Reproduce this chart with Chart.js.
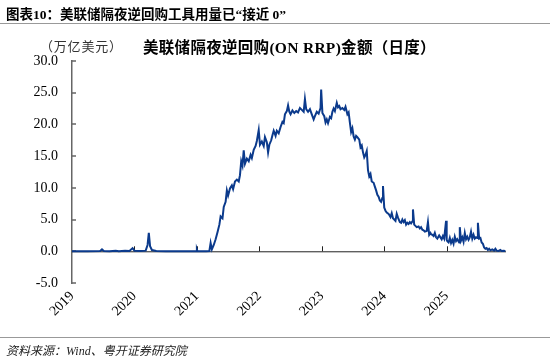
<!DOCTYPE html>
<html>
<head>
<meta charset="utf-8">
<script src="https://cdn.jsdelivr.net/npm/chart.js@4.4.1/dist/chart.umd.min.js"></script>
<style>
  body { margin: 0; background: #fff; }
  #wrap { position: relative; width: 550px; height: 359px; overflow: hidden; }
  #c { position: absolute; left: 0; top: 0; }
  .txt { position: absolute; white-space: nowrap; color: #000; }
  #head { left: 6px; top: 3px; font: bold 13.5px 'Liberation Serif', 'Noto Sans CJK SC'; }
  #headLine { position: absolute; left: 0; top: 23px; width: 550px; height: 1px; background: #999; }
  #unit { left: 40px; top: 36px; font: 13px 'Liberation Serif', 'Noto Sans CJK SC'; color: #333; letter-spacing: 0.8px; }
  #title { left: 143px; top: 35px; font: bold 15.5px 'Liberation Serif', 'Noto Sans CJK SC'; letter-spacing: 0.3px; }
  #footLine { position: absolute; left: 0; top: 337px; width: 550px; height: 1px; background: #999; }
  #foot { left: 6px; top: 341px; font: italic 12px 'Liberation Serif', 'Noto Sans CJK SC'; color: #222; }
</style>
</head>
<body>
<div id="wrap">
  <canvas id="c" width="550" height="359"></canvas>
  <div class="txt" id="head">图表10：美联储隔夜逆回购工具用量已“接近 0”</div>
  <div id="headLine"></div>
  <div class="txt" id="unit">（万亿美元）</div>
  <div class="txt" id="title">美联储隔夜逆回购(ON RRP)金额（日度）</div>
  <div id="footLine"></div>
  <div class="txt" id="foot">资料来源：Wind、粤开证券研究院</div>
</div>
<script>
// dates as decimal years, amounts in 万亿美元
const years = [
  2019.00, 2019.10, 2019.25, 2019.45, 2019.48, 2019.51, 2019.60, 2019.70, 2019.75, 2019.85,
  2019.92, 2019.97, 2020.00, 2020.10, 2020.18, 2020.21, 2020.23, 2020.25, 2020.28, 2020.35,
  2020.50, 2020.80, 2020.99, 2021.00, 2021.01, 2021.15, 2021.20, 2021.22, 2021.24, 2021.27,
  2021.30, 2021.33, 2021.36, 2021.38, 2021.41, 2021.43, 2021.46, 2021.48, 2021.50, 2021.53,
  2021.56, 2021.58, 2021.61, 2021.64, 2021.67, 2021.69, 2021.71, 2021.73, 2021.75, 2021.77,
  2021.80, 2021.83, 2021.86, 2021.88, 2021.91, 2021.94, 2021.96, 2021.99, 2022.01, 2022.04,
  2022.07, 2022.09, 2022.12, 2022.14, 2022.16, 2022.19, 2022.21, 2022.23, 2022.26, 2022.28,
  2022.31, 2022.34, 2022.37, 2022.39, 2022.41, 2022.44, 2022.46, 2022.48, 2022.50, 2022.53,
  2022.56, 2022.59, 2022.62, 2022.65, 2022.68, 2022.71, 2022.73, 2022.75, 2022.78, 2022.81,
  2022.84, 2022.87, 2022.89, 2022.92, 2022.95, 2022.98, 2022.99, 2023.01, 2023.04, 2023.06,
  2023.08, 2023.10, 2023.13, 2023.15, 2023.17, 2023.19, 2023.21, 2023.24, 2023.26, 2023.28,
  2023.30, 2023.33, 2023.36, 2023.38, 2023.41, 2023.43, 2023.45, 2023.47, 2023.49, 2023.51,
  2023.53, 2023.55, 2023.57, 2023.60, 2023.62, 2023.64, 2023.66, 2023.68, 2023.70, 2023.72,
  2023.74, 2023.76, 2023.78, 2023.80, 2023.83, 2023.85, 2023.87, 2023.89, 2023.91, 2023.93,
  2023.95, 2023.97, 2023.98, 2024.00, 2024.02, 2024.04, 2024.07, 2024.10, 2024.12, 2024.14,
  2024.16, 2024.18, 2024.20, 2024.22, 2024.25, 2024.27, 2024.29, 2024.31, 2024.33, 2024.35,
  2024.37, 2024.39, 2024.41, 2024.43, 2024.45, 2024.46, 2024.48, 2024.50, 2024.52, 2024.55,
  2024.57, 2024.59, 2024.61, 2024.63, 2024.65, 2024.68, 2024.70, 2024.72, 2024.74, 2024.75,
  2024.77, 2024.79, 2024.81, 2024.83, 2024.85, 2024.88, 2024.90, 2024.92, 2024.94, 2024.96,
  2024.99, 2025.00, 2025.01, 2025.03, 2025.05, 2025.07, 2025.09, 2025.11, 2025.13, 2025.15,
  2025.17, 2025.20, 2025.21, 2025.23, 2025.25, 2025.27, 2025.29, 2025.31, 2025.33, 2025.35,
  2025.37, 2025.39, 2025.41, 2025.43, 2025.45, 2025.47, 2025.49, 2025.50, 2025.52, 2025.54,
  2025.56, 2025.58, 2025.60, 2025.62, 2025.64, 2025.66, 2025.68, 2025.70, 2025.73, 2025.76,
  2025.78, 2025.80, 2025.83, 2025.86, 2025.88, 2025.91, 2025.94
];
const amounts = [
  0.0, 0.0, 0.02, 0.05, 0.3, 0.05, 0.02, 0.1, 0.0, 0.1,
  0.05, 0.5, 0.1, 0.05, 0.1, 1.0, 2.9, 0.8, 0.2, 0.05,
  0.0, 0.0, 0.0, 0.3, 0.0, 0.0, 0.05, 1.3, 0.3, 1.0,
  1.9, 3.0, 4.2, 5.5, 5.2, 7.0, 7.8, 9.6, 8.8, 9.9,
  10.4, 9.8, 11.0, 11.3, 11.0, 12.0, 14.2, 13.5, 15.9, 13.8,
  14.6, 14.2, 15.2, 14.7, 16.0, 16.6, 17.4, 19.1, 16.8, 17.3,
  16.6, 18.0, 17.2, 15.6, 16.8, 17.5, 18.3, 19.0, 18.2, 19.0,
  18.6, 19.6, 20.4, 20.2, 21.6, 22.1, 23.0, 22.0, 21.6, 22.2,
  21.8, 22.1, 21.9, 22.6, 22.3, 22.0, 24.0, 22.4, 22.0, 22.4,
  21.6, 20.8, 21.3, 22.0, 21.7, 22.6, 25.5, 21.8, 21.3, 20.3,
  20.8, 20.2, 21.2, 21.0, 22.0, 22.5, 22.1, 23.4, 22.7, 22.9,
  22.4, 22.6, 22.3, 22.8, 21.6, 21.9, 20.3, 18.8, 19.4, 18.1,
  17.6, 18.2, 18.0, 17.6, 16.4, 16.7, 15.6, 14.8, 15.2, 15.8,
  12.8, 11.8, 12.2, 11.0, 10.8, 10.2, 9.6, 8.9, 8.6, 8.0,
  7.8, 8.4, 10.3, 6.9, 6.4, 6.1, 5.9, 5.4, 6.0, 5.2,
  5.0, 4.8, 5.9, 5.3, 4.6, 4.5, 5.0, 4.6, 4.9, 4.2,
  4.5, 4.3, 4.6, 4.4, 4.7, 6.6, 4.2, 4.0, 3.8, 3.9,
  3.6, 3.8, 3.4, 3.3, 3.1, 3.2, 4.6, 2.6, 2.9, 2.7,
  2.6, 2.4, 2.9, 2.2, 2.0, 2.5, 2.2, 1.9, 2.4, 2.0,
  4.8, 1.8, 1.6, 1.4, 2.1, 1.3, 1.8, 1.2, 2.3, 1.6,
  1.9, 1.4, 3.8, 1.7, 2.2, 1.5, 2.9, 1.9, 2.3, 1.8,
  2.2, 3.1, 2.0, 2.6, 2.0, 2.2, 2.1, 4.5, 2.0, 2.1,
  1.4, 1.2, 0.6, 0.4, 0.5, 0.2, 0.4, 0.15, 0.3, 0.1,
  0.4, 0.1, 0.05, 0.2, 0.05, 0.1, 0.05
];
const yearTicks = [2019, 2020, 2021, 2022, 2023, 2024, 2025];

const xMin = 2019, xMax = 2025.95;

// zero line + inward tick marks, like the original axes
const axisMarks = {
  id: 'axisMarks',
  beforeDatasetsDraw(chart) {
    const { ctx, chartArea, scales } = chart;
    const x = scales.x, y = scales.y;
    const y0 = y.getPixelForValue(0);
    ctx.save();
    ctx.strokeStyle = '#222';
    ctx.lineWidth = 1;
    ctx.beginPath();
    ctx.moveTo(chartArea.left, y0 + 0.5);
    ctx.lineTo(x.getPixelForValue(xMax), y0 + 0.5);
    yearTicks.slice(1).forEach(v => {
      const px = Math.round(x.getPixelForValue(v)) + 0.5;
      ctx.moveTo(px, y0);
      ctx.lineTo(px, y0 - 5);
    });
    ctx.stroke();
    ctx.strokeStyle = '#666';
    ctx.lineWidth = 1.5;
    ctx.beginPath();
    y.ticks.forEach(t => {
      const py = Math.round(y.getPixelForValue(t.value));
      ctx.moveTo(chartArea.left, py);
      ctx.lineTo(chartArea.left + 4, py);
    });
    ctx.stroke();
    ctx.restore();
  }
};

Chart.defaults.font.family = "'Liberation Serif', 'Noto Sans CJK SC'";
Chart.defaults.color = '#000';

new Chart(document.getElementById('c'), {
  type: 'line',
  data: {
    datasets: [{
      data: years.map((t, i) => ({ x: t, y: amounts[i] })),
      borderColor: '#0b3a8c',
      borderWidth: 2,
      pointRadius: 0,
      tension: 0
    }]
  },
  options: {
    responsive: false,
    animation: false,
    layout: { padding: { left: 0, top: 61, right: 44, bottom: 0 } },
    plugins: { legend: { display: false }, tooltip: { enabled: false } },
    scales: {
      x: {
        type: 'linear',
        min: xMin,
        max: xMax,
        afterFit: s => { s.height = 76; },
        grid: { display: false, drawTicks: false },
        border: { display: false },
        ticks: {
          stepSize: 1,
          includeBounds: false,
          autoSkip: false,
          maxRotation: 45,
          minRotation: 45,
          padding: 5,
          font: { size: 14 },
          callback: v => (Number.isInteger(v) ? String(v) : '')
        }
      },
      y: {
        min: -5,
        max: 30,
        afterFit: s => { s.width = 72; },
        grid: { display: false, drawTicks: false },
        border: { display: true, color: '#666', width: 1.5 },
        ticks: {
          stepSize: 5,
          padding: 14,
          font: { size: 14 },
          callback: v => v.toFixed(1)
        }
      }
    }
  },
  plugins: [axisMarks]
});
</script>
</body>
</html>
